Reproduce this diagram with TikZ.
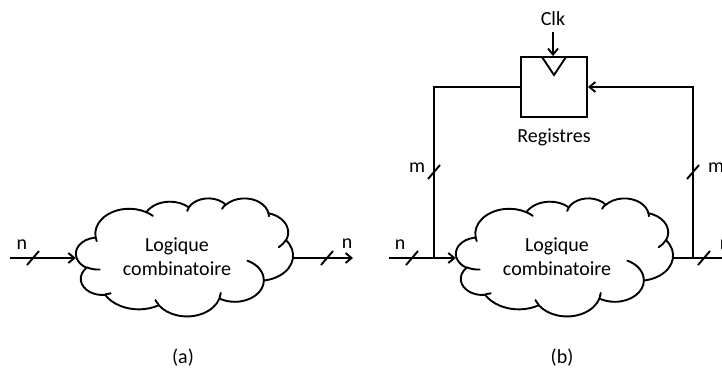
\documentclass[tikz,border=0pt]{standalone}
\usepackage{fontspec}
\setmainfont{Carlito}
\usetikzlibrary{arrows.meta,calc}
% visual (DrawingML) angle -> parametric angle on ellipse
\pgfmathdeclarefunction{oot}{3}{%
  \begingroup
  \pgfmathsetmacro\oodd{atan2((#2)*sin(#1),(#3)*cos(#1))-(#1)}%
  \pgfmathparse{(#1)+\oodd-360*round(\oodd/360)}%
  \pgfmathsmuggle\pgfmathresult
  \endgroup}
\newcommand\ooarc[4]{arc[start angle={oot(#3,#1,#2)}, end angle={oot(#3+#4,#1,#2)}, x radius=#1, y radius=#2]}
\newcommand\drawcloud[2]{% top-left corner x,y
  \begin{scope}[shift={(#1,#2)}, x=0.50231pt, y=-0.27315pt]
    \draw[wire, fill=white, line join=round] (39.00,143.70)
      \ooarc{67.53}{91.90}{-190.4875}{123.7805}
      \ooarc{53.33}{72.67}{-144.1024}{89.9452}
      \ooarc{43.65}{59.45}{-145.8079}{99.7230}
      \ooarc{48.57}{65.95}{-130.9861}{117.2417}
      \ooarc{53.33}{72.73}{-78.7089}{109.0269}
      \ooarc{67.75}{92.20}{-46.2673}{130.2690}
      \ooarc{57.85}{78.67}{0.6250}{114.0333}
      \ooarc{67.52}{92.15}{22.4516}{115.1726}
      \ooarc{77.20}{105.43}{66.2426}{75.7110}
      \ooarc{43.60}{59.18}{-274.9421}{146.7356}
      \ooarc{43.45}{59.45}{-246.8285}{152.5189}
      -- cycle;
    \draw[wire, line cap=round]
      (46.93,261.77) \ooarc{43.45}{59.45}{86.7420}{26.4295}
      (69.28,348.99) \ooarc{43.60}{59.18}{73.6105}{11.4475}
      (164.78,390.90) \ooarc{67.52}{92.15}{137.6242}{14.0811}
      (288.27,347.51) \ooarc{67.52}{92.15}{6.4533}{15.9984}
      (341.29,229.54) \ooarc{57.85}{78.67}{-70.2924}{70.9174}
      (417.98,153.54) \ooarc{53.33}{72.73}{30.3180}{27.7515}
      (383.24,54.26) \ooarc{48.57}{65.95}{-13.7443}{14.8589}
      (290.78,39.52) \ooarc{48.57}{65.95}{-149.1815}{18.1954}
      (221.41,47.20) \ooarc{43.65}{59.45}{-163.4943}{17.6864}
      (140.00,51.92) \ooarc{67.53}{91.90}{-66.7070}{12.3194}
      (41.27,157.89) \ooarc{67.53}{91.90}{157.6544}{11.8582};
  \end{scope}}
\newcommand\busmark[1]{\draw[wire] ($(#1)+(-6,7)$) -- ($(#1)+(6,-7)$);}
\begin{document}
\begin{tikzpicture}[x=1pt, y=-1pt,
  wire/.style={line width=1.9pt},
  arr/.style={wire, -{Straight Barb[length=6pt, width=10pt, line width=1.9pt]}},
  lbl/.style={font=\fontsize{20}{24}\selectfont, inner sep=0pt},
  cloudtext/.style={font=\fontsize{20}{24}\selectfont, inner sep=0pt, align=center},
  cloudbox/.style={inner sep=0pt, minimum width=217pt, minimum height=118pt}]
\useasboundingbox (0,0) rectangle (722,369);
\clip (0,0) rectangle (722,369);

% ---------- (a) ----------
\drawcloud{76}{198}
\node[cloudbox] (cloudA) at (184.5,257) {};
\node[cloudtext] (txtA) at (177,257) {Logique\\combinatoire};
\coordinate (ainL) at (10,258);
\coordinate (aoutR) at (353,258);
\draw[arr] (ainL) -- (ainL -| cloudA.west);
\draw[arr] (aoutR -| cloudA.east) -- (aoutR);
\coordinate (sa1) at (33,258);
\coordinate (sa2) at (327,258);
\busmark{sa1}
\busmark{sa2}
\node[lbl] (na1) at (22,245) {n};
\node[lbl] (na2) at (347,244) {n};
\node[lbl] (capA) at (183,358) {(a)};

% ---------- (b) ----------
\drawcloud{456}{198}
\node[cloudbox] (cloudB) at (564.5,257) {};
\node[cloudtext] (txtB) at (557,257) {Logique\\combinatoire};
\node[draw, wire, minimum width=66pt, minimum height=60pt, inner sep=0pt] (reg) at (554,87) {};
\draw[wire, line join=miter] (542,57) -- (554,75) -- (566,57);
\node[lbl] (clk) at (553,19) {Clk};
\draw[arr] (clk.south |- 0,32) -- (clk.south |- reg.north);
\node[lbl] (regl) at (554,137) {Registres};
\coordinate (binL) at (389,258);
\coordinate (jL) at (434,258);
\coordinate (jR) at (693,258);
\coordinate (boutR) at (745,258);
\draw[arr] (binL) -- (binL -| cloudB.west);
\draw[wire] (reg.west) -| (jL);
\draw[arr] (jR) |- (reg.east);
\draw[arr] (boutR -| cloudB.east) -- (boutR);
\coordinate (sb1) at (412,258);
\coordinate (sb2) at (434,172);
\coordinate (sb3) at (693,172);
\coordinate (sb4) at (704,258);
\busmark{sb1}
\busmark{sb2}
\busmark{sb3}
\busmark{sb4}
\node[lbl] (nb1) at (400,245) {n};
\node[lbl] (mb1) at (417,168) {m};
\node[lbl] (mb2) at (716,168) {m};
\node[lbl] (nb2) at (725,245) {n};
\node[lbl] (capB) at (562,358) {(b)};
\end{tikzpicture}
\end{document}
